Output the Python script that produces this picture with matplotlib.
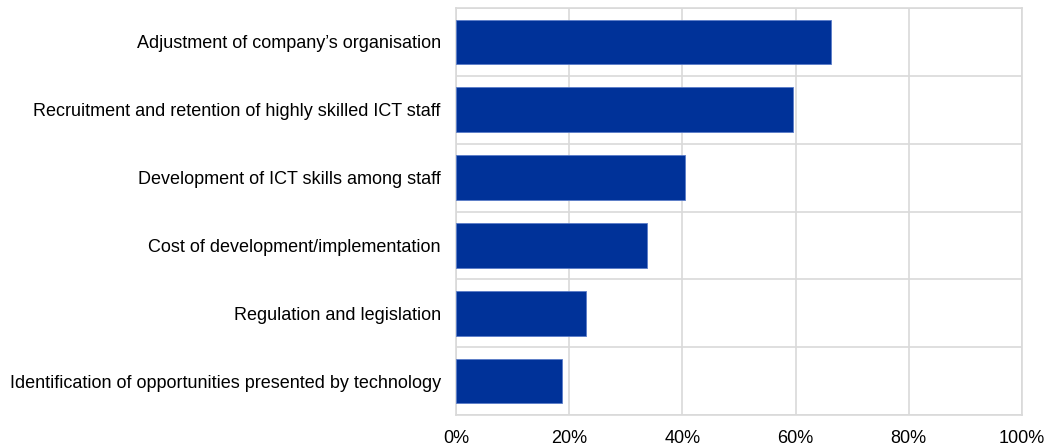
import matplotlib
matplotlib.use("Agg")
import matplotlib.pyplot as plt
from matplotlib.ticker import FuncFormatter, MultipleLocator
import numpy as np

categories = [
    "Adjustment of company\u2019s organisation",
    "Recruitment and retention of highly skilled ICT staff",
    "Development of ICT skills among staff",
    "Cost of development/implementation",
    "Regulation and legislation",
    "Identification of opportunities presented by technology",
]
shares = [66.2, 59.5, 40.4, 33.8, 22.9, 18.8]
x_ticks = [0, 20, 40, 60, 80, 100]

plt.rcParams["font.family"] = ["Liberation Sans", "DejaVu Sans"]

fig = plt.figure(figsize=(10.49, 4.47), dpi=100)
ax = fig.add_axes([456 / 1049, 1 - 415 / 447, (1022 - 456) / 1049, (415 - 8) / 447])

y = np.arange(len(categories))
ax.barh(y, shares, height=0.66, color="#003299", edgecolor="#5a7cc8",
        linewidth=0.6, zorder=3)

ax.set_xlim(0, 100)
ax.set_ylim(len(categories) - 0.5, -0.5)
ax.set_xticks(x_ticks)
ax.xaxis.set_major_formatter(FuncFormatter(lambda v, _: f"{v:.0f}%"))
ax.set_yticks(y)
ax.set_yticklabels(categories)
ax.yaxis.set_minor_locator(MultipleLocator(1, offset=0.5))

grid_color = "#d9d9d9"
ax.grid(axis="x", which="major", color=grid_color, linewidth=1.2, zorder=0)
ax.grid(axis="y", which="minor", color=grid_color, linewidth=1.2, zorder=0)
for side in ax.spines.values():
    side.set_color(grid_color)
    side.set_linewidth(1.2)

ax.tick_params(axis="both", which="both", length=0, labelsize=13.0, colors="#000000")
ax.tick_params(axis="y", pad=11)
ax.tick_params(axis="x", pad=11)

fig.savefig("out.png", dpi=100)
